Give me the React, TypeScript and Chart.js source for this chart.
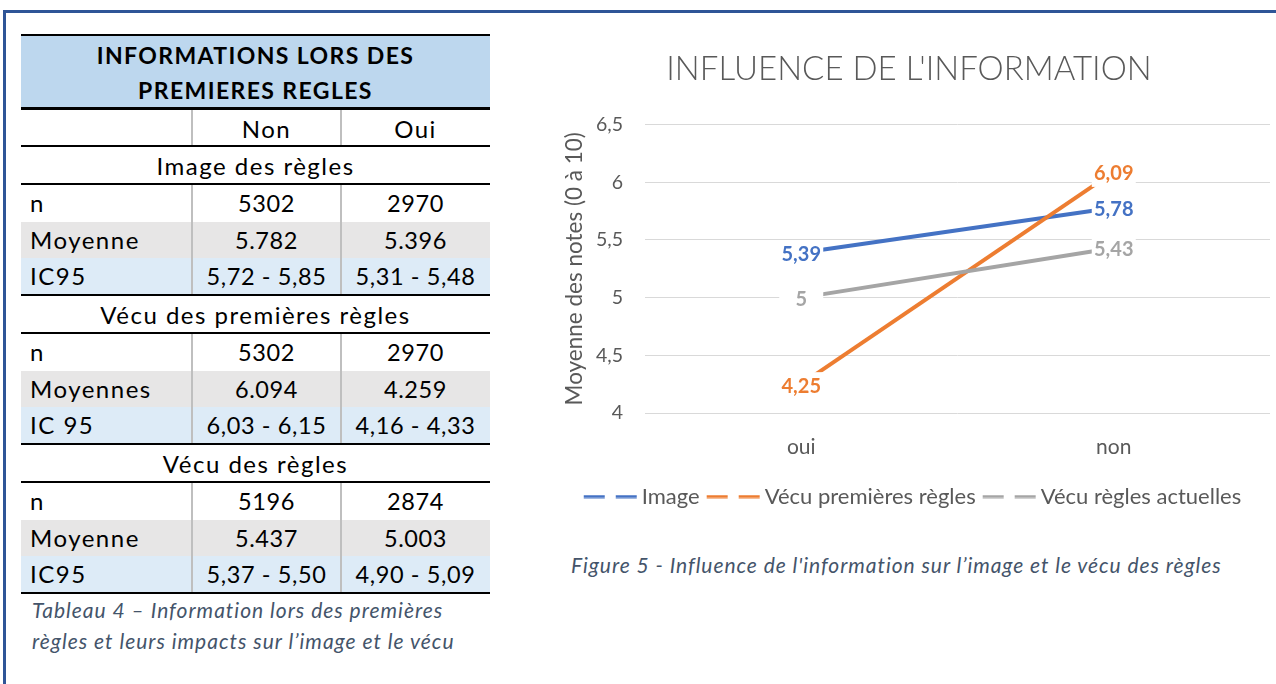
import React, { useEffect, useRef } from "react";
import { Chart, registerables } from "chart.js";

Chart.register(...registerables);

// ---------- Chart data ----------
const categories = ["oui", "non"];
const imageValues = [5.39, 5.78];
const vecuPremieresValues = [4.25, 6.09];
const vecuActuellesValues = [5, 5.43];
const seriesNames = ["Image", "Vécu premières règles", "Vécu règles actuelles"];
const seriesColors = ["#4472C4", "#ED7D31", "#A5A5A5"];
const yMin = 4;
const yMax = 6.5;
const yStep = 0.5;
const chartTitle = "INFLUENCE DE L'INFORMATION";
const yAxisTitle = "Moyenne des notes (0 à 10)";
const figureCaption = "Figure 5 - Influence de l'information sur l’image et le vécu des règles";

// ---------- Table data ----------
const tableTitleLines = ["INFORMATIONS LORS DES", "PREMIERES REGLES"];
const columnHeaders = ["Non", "Oui"];
const sectionTitles = ["Image des règles", "Vécu des premières règles", "Vécu des règles"];
const rowLabels1 = ["n", "Moyenne", "IC95"];
const rowLabels2 = ["n", "Moyennes", "IC 95"];
const rowLabels3 = ["n", "Moyenne", "IC95"];
const nonValues1 = ["5302", "5.782", "5,72 - 5,85"];
const ouiValues1 = ["2970", "5.396", "5,31 - 5,48"];
const nonValues2 = ["5302", "6.094", "6,03 - 6,15"];
const ouiValues2 = ["2970", "4.259", "4,16 - 4,33"];
const nonValues3 = ["5196", "5.437", "5,37 - 5,50"];
const ouiValues3 = ["2874", "5.003", "4,90 - 5,09"];
const tableCaptionLines = [
  "Tableau 4 – Information lors des premières",
  "règles et leurs impacts sur l’image et le vécu",
];

const FONT = "Lato";
const LEGEND_FONT_SIZE = 22;

const fmt = (v: number) => String(v).replace(".", ",");

// dashed legend sample, shifted right so it sits close to its text
function makeLegendSample(color: string) {
  const w = 46 + LEGEND_FONT_SIZE;
  const c = document.createElement("canvas");
  c.width = w;
  c.height = 4;
  const g = c.getContext("2d")!;
  g.strokeStyle = color;
  g.lineWidth = 3;
  g.setLineDash([21, 11]);
  g.beginPath();
  g.moveTo(w - 54, 2);
  g.lineTo(w, 2);
  g.stroke();
  return c;
}

const dataLabelPlugin = {
  id: "dataLabelsBoxed",
  afterDatasetsDraw(chart: any) {
    const ctx = chart.ctx;
    chart.data.datasets.forEach((ds: any, i: number) => {
      const meta = chart.getDatasetMeta(i);
      meta.data.forEach((pt: any, j: number) => {
        const txt = fmt(ds.data[j]);
        ctx.save();
        ctx.fillStyle = "#ffffff";
        ctx.fillRect(pt.x - 22, pt.y - 12, 44, 27);
        ctx.font = `bold 20px ${FONT}`;
        ctx.fillStyle = ds.borderColor;
        ctx.textAlign = "center";
        ctx.textBaseline = "middle";
        ctx.fillText(txt, pt.x, pt.y + 2);
        ctx.restore();
      });
    });
  },
};

function LineChart() {
  const ref = useRef<HTMLCanvasElement | null>(null);
  useEffect(() => {
    if (!ref.current) return;
    const allValues = [imageValues, vecuPremieresValues, vecuActuellesValues];
    const samples = seriesColors.map(makeLegendSample);
    const chart = new Chart(ref.current, {
      type: "line",
      data: {
        labels: categories,
        datasets: allValues.map((vals, i) => ({
          label: seriesNames[i],
          data: vals,
          borderColor: seriesColors[i],
          backgroundColor: seriesColors[i],
          borderWidth: 4,
          pointRadius: 0,
          fill: false,
          tension: 0,
          order: 3 - i,
        })),
      },
      options: {
        responsive: false,
        animation: false,
        layout: { padding: { left: 0, right: 6, top: 0, bottom: 12.5 } },
        plugins: {
          tooltip: { enabled: false },
          title: {
            display: true,
            text: chartTitle,
            color: "#595959",
            font: { family: FONT, size: 33, weight: "300" as any, lineHeight: 1.2 },
            padding: { top: 20, bottom: 35 },
          },
          legend: {
            display: true,
            position: "bottom",
            labels: {
              usePointStyle: true,
              pointStyleWidth: 54,
              padding: 0,
              color: "#595959",
              font: { family: FONT, size: LEGEND_FONT_SIZE },
              sort: (a: any, b: any) => a.datasetIndex - b.datasetIndex,
              generateLabels: (c: any) =>
                c.data.datasets.map((ds: any, i: number) => ({
                  text: ds.label,
                  strokeStyle: ds.borderColor,
                  fillStyle: ds.borderColor,
                  lineWidth: 0,
                  pointStyle: samples[i],
                  fontColor: "#595959",
                  datasetIndex: i,
                  hidden: false,
                })),
            },
          },
        },
        scales: {
          x: {
            offset: true,
            grid: { display: false, drawTicks: false },
            border: { display: false },
            ticks: { color: "#595959", font: { family: FONT, size: 21 }, padding: 22 },
            afterFit: (s: any) => {
              s.height = 72.5;
            },
          },
          y: {
            min: yMin,
            max: yMax,
            grid: { color: "#D9D9D9", lineWidth: 1, drawTicks: false },
            border: { display: false },
            ticks: {
              stepSize: yStep,
              color: "#595959",
              font: { family: FONT, size: 19.5 },
              padding: 22,
              callback: (v: any) => fmt(Number(v)),
            },
            title: {
              display: true,
              text: yAxisTitle,
              color: "#595959",
              font: { family: FONT, size: 22.5, lineHeight: 1.2 },
              padding: { top: 13.5, bottom: 0 },
            },
            afterFit: (s: any) => {
              s.width = 97;
            },
          },
        },
      },
      plugins: [dataLabelPlugin],
    });
    return () => chart.destroy();
  }, []);
  return <canvas ref={ref} width={728} height={500} style={{ width: 728, height: 500, display: "block" }} />;
}

const COL_X = [21, 192, 341, 490];
const LABEL_STYLE = { fontSize: 24, letterSpacing: "1.5px" };
const NUM_STYLE = { fontSize: 23.5, letterSpacing: "0.6px" };

function DataRows({ top, labels, non, oui }: { top: number; labels: string[]; non: string[]; oui: string[] }) {
  const h = 36.33;
  const bgs = ["#FFFFFF", "#E7E6E6", "#DDEBF7"];
  return (
    <>
      {labels.map((lab, k) => {
        const t = top + k * h;
        return (
          <div key={k} style={{ position: "absolute", left: COL_X[0], top: t, width: COL_X[3] - COL_X[0], height: h, background: bgs[k] }}>
            <div style={{ position: "absolute", left: 9, top: 0, height: h, lineHeight: `${h}px`, ...LABEL_STYLE }}>{lab}</div>
            <div style={{ position: "absolute", left: COL_X[1] - COL_X[0], top: 0, width: COL_X[2] - COL_X[1], height: h, lineHeight: `${h}px`, textAlign: "center", ...NUM_STYLE }}>{non[k]}</div>
            <div style={{ position: "absolute", left: COL_X[2] - COL_X[0], top: 0, width: COL_X[3] - COL_X[2], height: h, lineHeight: `${h}px`, textAlign: "center", ...NUM_STYLE }}>{oui[k]}</div>
            <div style={{ position: "absolute", left: COL_X[1] - COL_X[0] - 1, top: 0, width: 1.5, height: h, background: "#BFBFBF" }} />
            <div style={{ position: "absolute", left: COL_X[2] - COL_X[0] - 1, top: 0, width: 1.5, height: h, background: "#BFBFBF" }} />
          </div>
        );
      })}
    </>
  );
}

function HLine({ top }: { top: number }) {
  return <div style={{ position: "absolute", left: COL_X[0], top, width: COL_X[3] - COL_X[0], height: 2.3, background: "#000" }} />;
}

function SectionTitle({ top, text }: { top: number; text: string }) {
  return (
    <div style={{ position: "absolute", left: COL_X[0], top, width: COL_X[3] - COL_X[0], height: 36, lineHeight: "38px", textAlign: "center", ...LABEL_STYLE }}>{text}</div>
  );
}

export default function App() {
  const sections = [
    { top: 147, labels: rowLabels1, non: nonValues1, oui: ouiValues1 },
    { top: 296, labels: rowLabels2, non: nonValues2, oui: ouiValues2 },
    { top: 445, labels: rowLabels3, non: nonValues3, oui: ouiValues3 },
  ];
  return (
    <div style={{ position: "absolute", left: 0, top: 0, width: 1276, height: 684, background: "#fff", overflow: "hidden", fontFamily: FONT, color: "#000" }}>
      {/* frame */}
      <div style={{ position: "absolute", left: 3, top: 9.5, width: 1273, height: 3, background: "#2F5597" }} />
      <div style={{ position: "absolute", left: 3, top: 9.5, width: 3, height: 675, background: "#2F5597" }} />

      {/* table header */}
      <HLine top={33.5} />
      <div style={{ position: "absolute", left: COL_X[0], top: 35.8, width: COL_X[3] - COL_X[0], height: 71.5, background: "#BDD7EE" }}>
        {tableTitleLines.map((l, i) => (
          <div key={i} style={{ position: "absolute", left: 0, top: 2 + i * 35, width: "100%", textAlign: "center", fontWeight: 700, fontSize: 23, letterSpacing: "1.4px", lineHeight: "35px" }}>{l}</div>
        ))}
      </div>
      <HLine top={107.3} />
      <div style={{ position: "absolute", left: COL_X[0], top: 109.6, width: COL_X[3] - COL_X[0], height: 35.5 }}>
        <div style={{ position: "absolute", left: COL_X[1] - COL_X[0], width: COL_X[2] - COL_X[1], top: 0, lineHeight: "37px", textAlign: "center", ...LABEL_STYLE }}>{columnHeaders[0]}</div>
        <div style={{ position: "absolute", left: COL_X[2] - COL_X[0], width: COL_X[3] - COL_X[2], top: 0, lineHeight: "37px", textAlign: "center", ...LABEL_STYLE }}>{columnHeaders[1]}</div>
        <div style={{ position: "absolute", left: COL_X[1] - COL_X[0] - 1, top: 0, width: 1.5, height: 35.5, background: "#BFBFBF" }} />
        <div style={{ position: "absolute", left: COL_X[2] - COL_X[0] - 1, top: 0, width: 1.5, height: 35.5, background: "#BFBFBF" }} />
      </div>
      <HLine top={145} />

      {sections.map((s, i) => (
        <React.Fragment key={i}>
          <SectionTitle top={s.top} text={sectionTitles[i]} />
          <HLine top={s.top + 36} />
          <DataRows top={s.top + 38.3} labels={s.labels} non={s.non} oui={s.oui} />
          <HLine top={s.top + 147} />
        </React.Fragment>
      ))}

      {tableCaptionLines.map((l, i) => (
        <div key={i} style={{ position: "absolute", left: 32, top: 595 + i * 30.5, lineHeight: "30px", fontSize: 21, letterSpacing: "1px", fontStyle: "italic", color: "#44546A", whiteSpace: "nowrap" }}>{l}</div>
      ))}

      {/* chart */}
      <div style={{ position: "absolute", left: 548, top: 30, width: 728, height: 500 }}>
        <LineChart />
      </div>
      <div style={{ position: "absolute", left: 571, top: 550, lineHeight: "30px", fontSize: 21, letterSpacing: "0.95px", fontStyle: "italic", color: "#44546A", whiteSpace: "nowrap" }}>{figureCaption}</div>
    </div>
  );
}
